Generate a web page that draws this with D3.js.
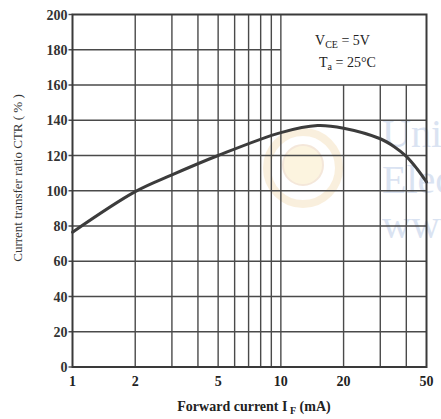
<!DOCTYPE html>
<html>
<head>
<meta charset="utf-8">
<script src="https://cdn.jsdelivr.net/npm/d3@7"></script>
<style>
  html, body { margin: 0; padding: 0; background: #fff; }
  svg { display: block; }
  text { font-family: "Liberation Serif", "DejaVu Serif", serif; fill: #222; }
</style>
</head>
<body>
<svg id="chart" width="441" height="419"></svg>
<script>
// Forward current (mA) vs current transfer ratio (%)
const currentMA = [1, 2, 3, 5, 10, 15, 20, 30, 35, 40, 45, 50];
const ctrPercent = [76.5, 99.5, 109, 120, 133, 137, 135.5, 129.5, 125, 119.5, 112.5, 105];

const xTickValues = [1, 2, 5, 10, 20, 50];
const yTickValues = [0, 20, 40, 60, 80, 100, 120, 140, 160, 180, 200];
const xGridFull = [2, 3, 4, 5, 6, 7, 8, 9, 10];   // run the full height
const xGridShort = [20, 30, 40];                  // stop under the condition box
const yGridFull = [20, 40, 60, 80, 100, 120, 140, 160];
const yGridShort = [180];                         // stops at 10 mA

const svg = d3.select("#chart");
const plotLeft = 72.5, plotRight = 426.5, plotTop = 14.5, plotBottom = 367;

const x = d3.scaleLog().domain([1, 50]).range([plotLeft, plotRight]);
const y = d3.scaleLinear().domain([0, 200]).range([plotBottom, plotTop]);

const gridColor = "#4a4a4a";

// faint watermark behind the chart
const wm = svg.append("g").attr("opacity", 0.16);
wm.append("circle").attr("cx", 303).attr("cy", 168).attr("r", 36)
  .attr("fill", "none").attr("stroke", "#e0a030").attr("stroke-width", 8);
wm.append("circle").attr("cx", 303).attr("cy", 165).attr("r", 20)
  .attr("fill", "#f2c040").attr("stroke", "#c07020").attr("stroke-width", 2);
const wmText = svg.append("g").attr("opacity", 0.6);
[["Univ", 147], ["Elec", 193], ["www", 238]].forEach(([t, yy]) => {
  wmText.append("text").attr("x", 382).attr("y", yy)
    .style("font-size", "40px").style("fill", "#c3d1ea").text(t);
});

// grid
const grid = svg.append("g").attr("stroke", gridColor).attr("stroke-width", 1.4);
grid.selectAll(".hf").data(yGridFull).enter().append("line")
  .attr("x1", plotLeft - 4).attr("x2", plotRight).attr("y1", d => y(d)).attr("y2", d => y(d));
grid.selectAll(".hs").data(yGridShort).enter().append("line")
  .attr("x1", plotLeft - 4).attr("x2", x(10)).attr("y1", d => y(d)).attr("y2", d => y(d));
grid.selectAll(".vf").data(xGridFull).enter().append("line")
  .attr("x1", d => x(d)).attr("x2", d => x(d)).attr("y1", plotTop).attr("y2", plotBottom);
grid.selectAll(".vs").data(xGridShort).enter().append("line")
  .attr("x1", d => x(d)).attr("x2", d => x(d)).attr("y1", y(160)).attr("y2", plotBottom);
// ticks for 0 and 200
grid.selectAll(".te").data([0, 200]).enter().append("line")
  .attr("x1", plotLeft - 4).attr("x2", plotLeft).attr("y1", d => y(d)).attr("y2", d => y(d));

// frame
svg.append("rect").attr("x", plotLeft).attr("y", plotTop)
  .attr("width", plotRight - plotLeft).attr("height", plotBottom - plotTop)
  .attr("fill", "none").attr("stroke", "#3a3a3a").attr("stroke-width", 2);

// curve
const line = d3.line()
  .x((d, i) => x(currentMA[i]))
  .y(d => y(d))
  .curve(d3.curveCatmullRom.alpha(0.5));
svg.append("path").datum(ctrPercent)
  .attr("d", line)
  .attr("fill", "none").attr("stroke", "#3c3c3c").attr("stroke-width", 3)
  .attr("stroke-linecap", "round");

// y tick labels
svg.selectAll(".yl").data(yTickValues).enter().append("text")
  .attr("x", plotLeft - 5).attr("y", d => y(d) + 5)
  .attr("text-anchor", "end")
  .style("font-size", "14px").style("font-weight", "bold").style("fill", "#333")
  .text(d => d);

// x tick labels
svg.selectAll(".xl").data(xTickValues).enter().append("text")
  .attr("x", d => x(d)).attr("y", 386)
  .attr("text-anchor", "middle")
  .style("font-size", "14px").style("font-weight", "bold")
  .text(d => d);

// axis titles
const xt = svg.append("text").attr("x", 254).attr("y", 411)
  .attr("text-anchor", "middle").style("font-size", "14px").style("font-weight", "bold");
xt.append("tspan").text("Forward current I");
xt.append("tspan").attr("dy", 3).style("font-size", "10px").text(" F");
xt.append("tspan").attr("dy", -3).text("  (mA)");

svg.append("text")
  .attr("transform", "translate(22,178) rotate(-90)")
  .attr("text-anchor", "middle")
  .style("font-size", "13px").style("fill", "#333")
  .text("Current transfer ratio CTR ( % )");

// operating conditions
const c1 = svg.append("text").attr("x", 315).attr("y", 45).style("font-size", "14px");
c1.append("tspan").text("V");
c1.append("tspan").attr("dy", 3).style("font-size", "10px").text("CE");
c1.append("tspan").attr("dy", -3).text(" = 5V");
const c2 = svg.append("text").attr("x", 319).attr("y", 67).style("font-size", "14px");
c2.append("tspan").text("T");
c2.append("tspan").attr("dy", 3).style("font-size", "10px").text("a");
c2.append("tspan").attr("dy", -3).text(" = 25°C");
</script>
</body>
</html>
